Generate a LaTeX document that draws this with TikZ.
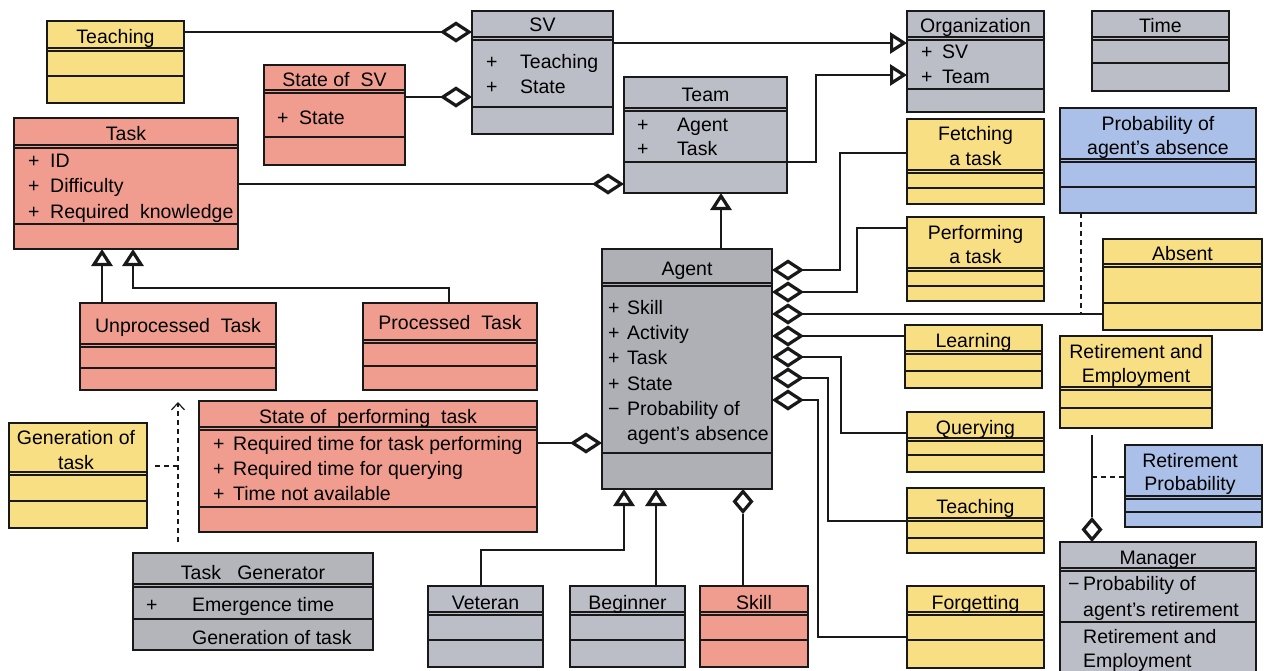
\documentclass[tikz,border=0pt]{standalone}
\usepackage{fontspec}
\setmainfont{Liberation Sans}
\usetikzlibrary{arrows.meta}
\definecolor{cyel}{HTML}{F8DF83}
\definecolor{csal}{HTML}{F09C8F}
\definecolor{cgry}{HTML}{BBBEC7}
\definecolor{cagt}{HTML}{AEB0B6}
\definecolor{ctg}{HTML}{B3B5BA}
\definecolor{cblu}{HTML}{AAC0E8}
\newcommand\umlbox[8]{%
  \node[cls, fill=#6, minimum width={(#4-#2)*1pt}, minimum height={(#5-#3)*1pt}] (#1) at ({(#2+#4)/2},{(#3+#5)/2}) {};
  \draw[clsline] (#1.west|-0,#7) -- (#1.east|-0,#7);
  \draw[clsline] (#1.west|-0,#7+3) -- (#1.east|-0,#7+3);
  \draw[clsline] (#1.west|-0,#8) -- (#1.east|-0,#8);
}
\newcommand\hd[4]{\node[txt] (#1) at (#2,#3+7) {#4};}
\newcommand\atr[4]{\node[atrs] (#1) at (#2,#3+7) {#4};}
\begin{document}
\begin{tikzpicture}[x=1pt,y=-1pt, font=\fontsize{19.5}{22}\selectfont,
  cls/.style={draw=black!90, line width=1.4pt, inner sep=0pt, outer sep=0pt},
  clsline/.style={draw=black!90, line width=1.2pt},
  txt/.style={inner sep=0pt, anchor=base},
  atrs/.style={inner sep=0pt, anchor=base west},
  conn/.style={line width=1.2pt, draw=black!90},
  agg/.style={conn, {Diamond[open,length=32pt,width=21pt,line width=3.2pt]}-},
  aggs/.style={conn, {Diamond[open,length=25pt,width=21pt,line width=3.2pt]}-},
  gen/.style={conn, -{Triangle[open,length=17pt,width=21pt,line width=3.2pt]}},
  dep/.style={conn, dash pattern=on 5pt off 4pt},
]
\useasboundingbox (0,0) rectangle (1264,670);
\clip (0,0) rectangle (1264,670);

% ---------- boxes ----------
\umlbox{teachA}{47}{21}{184}{103}{cyel}{48}{76}
\hd{teachA-t}{115.5}{36}{Teaching}

\umlbox{sos}{264}{65}{405}{165}{csal}{90}{137}
\hd{sos-t}{334.5}{79}{State of\ \ SV}
\atr{sos-p}{277}{117}{+}
\atr{sos-a}{299}{117}{State}

\umlbox{task}{14}{118}{238}{249}{csal}{145}{224}
\hd{task-t}{126}{133}{Task}
\atr{task-p1}{28}{160}{+}
\atr{task-a1}{50}{160}{ID}
\atr{task-p2}{28}{185}{+}
\atr{task-a2}{50}{185}{Difficulty}
\atr{task-p3}{28}{211}{+}
\atr{task-a3}{50}{211}{Required\ \ knowledge}

\umlbox{sv}{472}{11}{613}{134}{cgry}{37}{107}
\hd{sv-t}{542.5}{24}{SV}
\atr{sv-p1}{486}{61}{+}
\atr{sv-a1}{520}{61}{Teaching}
\atr{sv-p2}{486}{86}{+}
\atr{sv-a2}{520}{86}{State}

\umlbox{team}{624}{77}{787}{193}{cgry}{108}{162}
\hd{team-t}{705.5}{94}{Team}
\atr{team-p1}{637}{124}{+}
\atr{team-a1}{677}{124}{Agent}
\atr{team-p2}{637}{148}{+}
\atr{team-a2}{677}{148}{Task}

\umlbox{org}{907}{11}{1044}{112}{cgry}{37}{89}
\hd{org-t}{975.5}{25}{Organization}
\atr{org-p1}{921}{51}{+}
\atr{org-a1}{942}{51}{SV}
\atr{org-p2}{921}{76}{+}
\atr{org-a2}{942}{76}{Team}

\umlbox{time}{1092}{11}{1229}{91}{cgry}{37}{63}
\hd{time-t}{1160.5}{25}{Time}

\umlbox{fetch}{907}{119}{1044}{204}{cyel}{170}{188}
\hd{fetch-t1}{975.5}{133}{Fetching}
\hd{fetch-t2}{975.5}{158}{a task}

\umlbox{prob}{1060}{108}{1256}{213}{cblu}{159}{187}
\hd{prob-t1}{1158}{123}{Probability of}
\hd{prob-t2}{1158}{147}{agent’s absence}

\umlbox{perf}{907}{217}{1044}{301}{cyel}{268}{286}
\hd{perf-t1}{975.5}{232}{Performing}
\hd{perf-t2}{975.5}{256}{a task}

\umlbox{absent}{1103}{239}{1262}{330}{cyel}{264}{303}
\hd{absent-t}{1182.5}{253}{Absent}

\umlbox{learn}{905}{325}{1042}{388}{cyel}{351}{371}
\hd{learn-t}{973.5}{340}{Learning}

\umlbox{retemp}{1060}{336}{1212}{428}{cyel}{387}{408}
\hd{retemp-t1}{1136}{351}{Retirement and}
\hd{retemp-t2}{1136}{375}{Employment}

\umlbox{query}{907}{412}{1044}{472}{cyel}{438}{455}
\hd{query-t}{975.5}{427}{Querying}

\umlbox{teachB}{907}{488}{1044}{553}{cyel}{518}{538}
\hd{teachB-t}{975.5}{506}{Teaching}

\umlbox{forget}{907}{586}{1044}{668}{cyel}{612}{640}
\hd{forget-t}{975.5}{602}{Forgetting}

\umlbox{retprob}{1125}{445}{1262}{527}{cblu}{496}{512}
\hd{retprob-t1}{1190}{460}{Retirement}
\hd{retprob-t2}{1190}{483}{Probability}

\umlbox{manager}{1060}{542}{1256}{680}{cgry}{568}{622}
\hd{manager-t}{1158}{557}{Manager}
\atr{manager-m}{1068}{583}{−}
\atr{manager-a1}{1083}{583}{Probability of}
\atr{manager-a2}{1083}{609}{agent’s retirement}
\atr{manager-o1}{1083}{636}{Retirement and}
\atr{manager-o2}{1083}{660}{Employment}

\umlbox{agent}{602}{249}{772}{489}{cagt}{283}{453}
\hd{agent-t}{687}{268}{Agent}
\atr{agent-p1}{608}{307}{+}
\atr{agent-a1}{627}{307}{Skill}
\atr{agent-p2}{608}{332}{+}
\atr{agent-a2}{627}{332}{Activity}
\atr{agent-p3}{608}{357}{+}
\atr{agent-a3}{627}{357}{Task}
\atr{agent-p4}{608}{383}{+}
\atr{agent-a4}{627}{383}{State}
\atr{agent-m5}{608}{408}{−}
\atr{agent-a5}{627}{408}{Probability of}
\atr{agent-a6}{627}{433}{agent’s absence}

\umlbox{unp}{80}{303}{276}{390}{csal}{344}{368}
\hd{unp-t}{178}{325}{Unprocessed\ \ Task}

\umlbox{proc}{363}{303}{537}{390}{csal}{340}{366}
\hd{proc-t}{450}{322}{Processed\ \ Task}

\umlbox{spt}{199}{401}{537}{532}{csal}{427}{507}
\hd{spt-t}{368}{416}{State of\ \ performing\ \ task}
\atr{spt-p1}{213}{443}{+}
\atr{spt-a1}{233}{443}{Required time for task performing}
\atr{spt-p2}{213}{468}{+}
\atr{spt-a2}{233}{468}{Required time for querying}
\atr{spt-p3}{213}{493}{+}
\atr{spt-a3}{233}{493}{Time not available}

\umlbox{gen}{9}{423}{147}{528}{cyel}{472}{501}
\hd{gen-t1}{76}{437}{Generation of}
\hd{gen-t2}{76}{462}{task}

\umlbox{tg}{133}{553}{373}{650}{ctg}{584}{619}
\hd{tg-t}{253}{572}{Task\ \ \ Generator}
\atr{tg-p}{146}{604}{+}
\atr{tg-a}{192}{604}{Emergence time}
\atr{tg-o}{192}{637}{Generation of task}

\umlbox{vet}{428}{586}{543}{667}{cgry}{612}{640}
\hd{vet-t}{485.5}{602}{Veteran}

\umlbox{beg}{570}{586}{685}{667}{cgry}{612}{640}
\hd{beg-t}{627.5}{602}{Beginner}

\umlbox{skill}{700}{586}{808}{667}{csal}{612}{640}
\hd{skill-t}{754}{602}{Skill}

% ---------- connectors ----------
\draw[agg] (sv.west|-0,32) -- (teachA.east|-0,32);
\draw[agg] (sv.west|-0,97) -- (sos.east|-0,97);
\draw[gen] (sv.east|-0,43) -- (org.west|-0,43);
\draw[gen] (team.east|-0,162) -- (816,162) -- (816,75) -- (org.west|-0,75);
\draw[agg] (team.west|-0,184) -- (task.east|-0,184);
\draw[gen] (agent.north-|721,0) -- (team.south-|721,0);
\draw[gen] (unp.north-|102,0) -- (task.south-|102,0);
\draw[gen] (proc.north-|449,0) -- (449,288) -- (133,288) -- (task.south-|133,0);
\draw[agg] (agent.west|-0,443) -- (spt.east|-0,443);
\draw[gen] (vet.north-|481,0) -- (481,550) -- (624,550) -- (agent.south-|624,0);
\draw[gen] (beg.north-|656,0) -- (agent.south-|656,0);
\draw[aggs] (agent.south-|743,0) -- (skill.north-|743,0);

\draw[agg] (agent.east|-0,270) -- (840,270) -- (840,153) -- (fetch.west|-0,153);
\draw[agg] (agent.east|-0,292) -- (857,292) -- (857,228) -- (perf.west|-0,228);
\draw[agg] (agent.east|-0,314) -- (absent.west|-0,314);
\draw[agg] (agent.east|-0,336) -- (learn.west|-0,336);
\draw[agg] (agent.east|-0,357) -- (841,357) -- (841,433) -- (query.west|-0,433);
\draw[agg] (agent.east|-0,378) -- (828,378) -- (828,521) -- (teachB.west|-0,521);
\draw[agg] (agent.east|-0,400) -- (818,400) -- (818,637) -- (forget.west|-0,637);

\coordinate (absLine) at (1081,314);
\draw[dep] (prob.south-|1081,0) -- (absLine);

\coordinate (retTop) at (1092,435);
\draw[aggs] (manager.north-|1092,0) -- (retTop);
\coordinate (retJoin) at (1092,477);
\draw[dep] (retJoin) -- (retprob.west|-0,477);

\coordinate (tgStart) at (178,542);
\coordinate (tgEnd) at (178,402);
\draw[dep, -{Straight Barb[length=7pt,width=13pt]}] (tgStart) -- (tgEnd);
\coordinate (genJoin) at (178,466);
\draw[dep] (gen.east|-0,466) ++(8,0) -- (genJoin);
\end{tikzpicture}
\end{document}
